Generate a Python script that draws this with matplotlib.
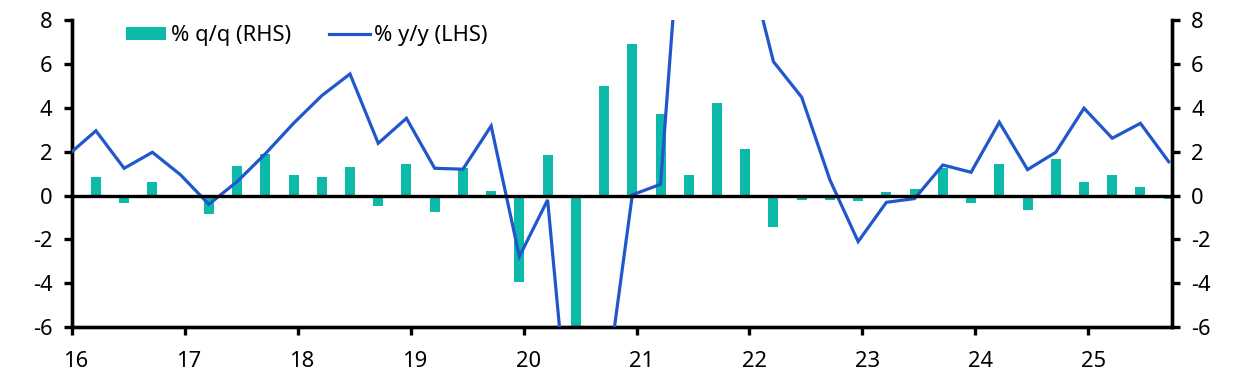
import matplotlib
matplotlib.use('Agg')
import matplotlib.pyplot as plt
import matplotlib.transforms as mtransforms
from matplotlib.patches import Patch
from matplotlib.lines import Line2D

plt.rcParams['font.family'] = ['Noto Sans', 'DejaVu Sans']
plt.rcParams['font.size'] = 15.8
plt.rcParams['axes.unicode_minus'] = False

# quarters 16Q1 .. 25Q3
years = list(range(2016, 2026))
quarters = [f'{y % 100}Q{q}' for y in years for q in range(1, 5)][:39]

# % q/q (RHS) - bars
qq = [0.85, -0.32, 0.62, 0.02,
      -0.82, 1.36, 1.90, 0.95,
      0.85, 1.30, -0.46, 1.44,
      -0.73, 1.27, 0.21, -3.92,
      1.85, -12.0, 4.99, 6.90,
      3.72, 0.94, 4.22, 2.12,
      -1.43, -0.20, -0.20, -0.25,
      0.16, 0.30, 1.24, -0.34,
      1.45, -0.66, 1.67, 0.62,
      0.95, 0.39, -0.15]

# % y/y (LHS) - line, starts one quarter earlier (15Q4)
yy = [1.83,
      2.95, 1.24, 1.97, 0.94,
      -0.40, 0.63, 1.90, 3.29,
      4.55, 5.54, 2.38, 3.52,
      1.24, 1.20, 3.17, -2.78,
      -0.20, -14.0, -9.5, 0.03,
      0.51, 17.7, 13.5, 11.2,
      6.10, 4.48, 0.71, -2.10,
      -0.31, -0.14, 1.39, 1.06,
      3.34, 1.18, 1.97, 3.98,
      2.61, 3.29, 1.54]

teal = '#0DB9A9'
blue = '#2057CC'

x_bar = [2016 + (k + 0.85) / 4 for k in range(len(qq))]
x_line = [2016 + (k - 1 + 0.85) / 4 for k in range(len(yy))]

fig = plt.figure(figsize=(12.4, 3.84), dpi=100)
ax = fig.add_axes([0.058, 0.148, 0.887, 0.800])
ax2 = ax.twinx()

ax2.bar(x_bar, qq, width=0.088, color=teal, zorder=2)
ax.plot(x_line, yy, color=blue, lw=2.3, zorder=3, solid_joinstyle='miter')
ax.axhline(0, color='black', lw=2.4, zorder=4)

ax.set_zorder(ax2.get_zorder() + 1)
ax.patch.set_visible(False)

for a in (ax, ax2):
    a.set_ylim(-6, 8)
    a.set_yticks(range(-6, 9, 2))
    a.set_xlim(2016, 2025.74)
    for s in a.spines.values():
        s.set_linewidth(2.4)
    a.spines['top'].set_visible(False)
    a.tick_params(width=2.4, length=6, pad=8, direction='out')

ax.set_xticks(years)
ax.set_xticklabels([str(y % 100) for y in years])
ax.tick_params(axis='x', pad=11)
offset = mtransforms.ScaledTranslation(5 / 100, 0, fig.dpi_scale_trans)
for lbl in ax.get_xticklabels():
    lbl.set_transform(lbl.get_transform() + offset)

handles = [Patch(facecolor=teal, edgecolor='none'),
           Line2D([], [], color=blue, lw=2.3)]
ax.legend(handles, ['% q/q (RHS)', '% y/y (LHS)'], loc='center left',
          bbox_to_anchor=(0.049, 0.948), ncol=2, frameon=False,
          borderpad=0, borderaxespad=0, handlelength=1.85, handleheight=0.57,
          handletextpad=0.2, columnspacing=1.75)

plt.savefig('out.png', dpi=100)
plt.close()
